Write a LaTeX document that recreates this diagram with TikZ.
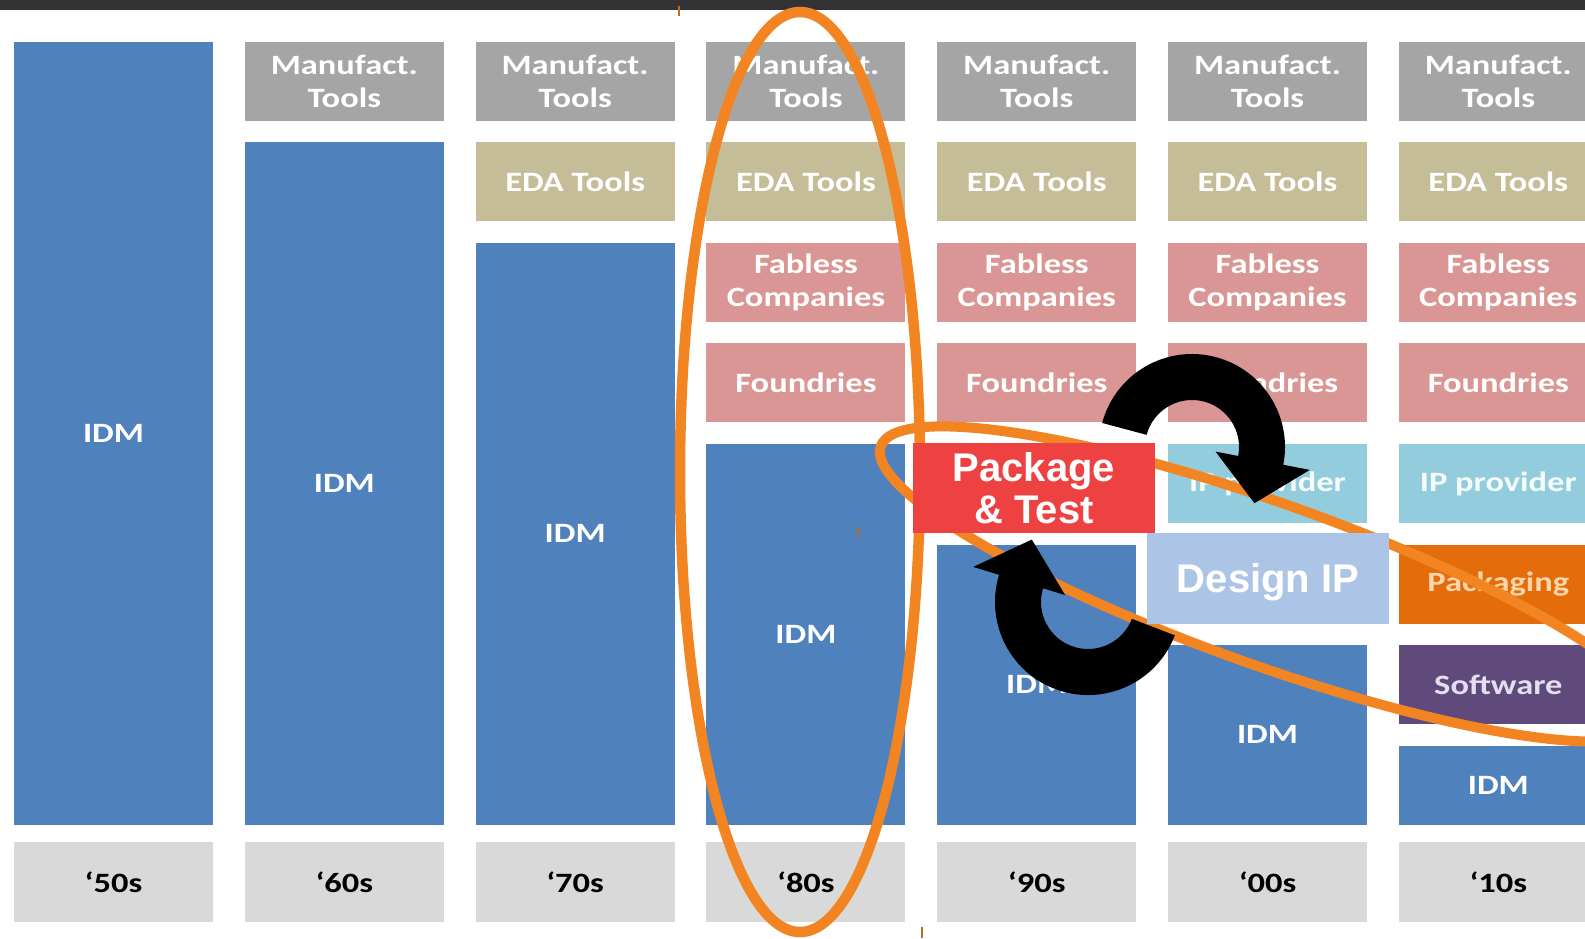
\documentclass[tikz,border=0pt]{standalone}
\usepackage{fontspec}
\newfontfamily\lblfont[FakeStretch=1.23]{Carlito}
\newfontfamily\callfont{Liberation Sans}
\usetikzlibrary{calc}

\definecolor{idmblue}{RGB}{79,129,189}
\definecolor{mfggray}{RGB}{165,165,165}
\definecolor{edatan}{RGB}{196,189,151}
\definecolor{fabpink}{RGB}{217,150,148}
\definecolor{ipaqua}{RGB}{147,205,221}
\definecolor{pkgorange}{RGB}{228,108,10}
\definecolor{swpurple}{RGB}{96,74,123}
\definecolor{decgray}{RGB}{217,217,217}
\definecolor{ringorange}{RGB}{242,133,34}
\definecolor{ptred}{RGB}{238,65,65}
\definecolor{dipblue}{RGB}{172,197,230}
\definecolor{topbar}{RGB}{51,51,51}

\tikzset{
  cell/.style={rectangle, anchor=north west, inner sep=0pt, outer sep=0pt,
    minimum width=199pt, minimum height=79pt, align=center, text=white,
    font=\lblfont\bfseries\fontsize{28}{33}\selectfont},
  idm/.style={cell, fill=idmblue},
  mfg/.style={cell, fill=mfggray},
  eda/.style={cell, fill=edatan},
  fab/.style={cell, fill=fabpink},
  ipp/.style={cell, fill=ipaqua, text=white!92!ipaqua},
  pkg/.style={cell, fill=pkgorange, text={rgb,255:red,252;green,213;blue,170}},
  sw/.style={cell, fill=swpurple, text={rgb,255:red,229;green,222;blue,238}},
  decade/.style={cell, fill=decgray, text=black, minimum height=80pt},
  callout/.style={rectangle, inner sep=0pt, outer sep=0pt, align=center,
    text=white, font=\callfont\bfseries\fontsize{40}{42}\selectfont},
  ring/.style={draw=ringorange, line width=10.5pt},
  tick/.style={draw=ringorange!80!black, line width=1.2pt},
}

% block at column #3 (1..7), row #4 (0..7)
\newcommand\tile[5]{\node[#1] (#2) at ({14+230.8*(#3-1)},{41.5+100.6*(#4)}) {#5};}

% curved thick arrow: centre, tail angle, head-base angle, tip angle
\newcommand\turnarrow[4]{%
  \fill[black] ($(#1)+(#2:93)$) arc[start angle=#2, end angle=#3, radius=93]
    -- ($(#1)+(#3:120)$) -- ($(#1)+(#4:84)$) -- ($(#1)+(#3:24)$)
    -- ($(#1)+(#3:47)$) arc[start angle=#3, end angle=#2, radius=47] -- cycle;}

\begin{document}
\begin{tikzpicture}[x=1pt, y=-1pt]
\path[use as bounding box] (0,0) rectangle (1585,938);
\clip (0,0) rectangle (1585,938);
\fill[white] (0,0) rectangle (1585,938);
\fill[topbar] (0,0) rectangle (1585,9.5);

% '50s
\tile{idm, minimum height=783.2pt}{c1}{1}{0}{IDM}
% '60s
\tile{mfg}{m2}{2}{0}{Manufact.\\Tools}
\tile{idm, minimum height=682.6pt}{c2}{2}{1}{IDM}
% '70s
\tile{mfg}{m3}{3}{0}{Manufact.\\Tools}
\tile{eda}{e3}{3}{1}{EDA Tools}
\tile{idm, minimum height=582pt}{c3}{3}{2}{IDM}
% '80s
\tile{mfg}{m4}{4}{0}{Manufact.\\Tools}
\tile{eda}{e4}{4}{1}{EDA Tools}
\tile{fab}{f4}{4}{2}{Fabless\\Companies}
\tile{fab}{d4}{4}{3}{Foundries}
\tile{idm, minimum height=380.8pt}{c4}{4}{4}{IDM}
% '90s
\tile{mfg}{m5}{5}{0}{Manufact.\\Tools}
\tile{eda}{e5}{5}{1}{EDA Tools}
\tile{fab}{f5}{5}{2}{Fabless\\Companies}
\tile{fab}{d5}{5}{3}{Foundries}
\tile{idm, minimum height=280.2pt}{c5}{5}{5}{IDM}
% '00s
\tile{mfg}{m6}{6}{0}{Manufact.\\Tools}
\tile{eda}{e6}{6}{1}{EDA Tools}
\tile{fab}{f6}{6}{2}{Fabless\\Companies}
\tile{fab}{d6}{6}{3}{Foundries}
\tile{ipp}{i6}{6}{4}{IP provider}
\tile{idm, minimum height=179.6pt}{c6}{6}{6}{IDM}
% '10s
\tile{mfg}{m7}{7}{0}{Manufact.\\Tools}
\tile{eda}{e7}{7}{1}{EDA Tools}
\tile{fab}{f7}{7}{2}{Fabless\\Companies}
\tile{fab}{d7}{7}{3}{Foundries}
\tile{ipp}{i7}{7}{4}{IP provider}
\tile{pkg}{p7}{7}{5}{Packaging}
\tile{sw}{s7}{7}{6}{Software}
\tile{idm}{c7}{7}{7}{IDM}

% decade labels
\node[decade] (y1) at (14,842) {‘50s};
\node[decade] (y2) at (244.8,842) {‘60s};
\node[decade] (y3) at (475.6,842) {‘70s};
\node[decade] (y4) at (706.4,842) {‘80s};
\node[decade] (y5) at (937.2,842) {‘90s};
\node[decade] (y6) at (1168,842) {‘00s};
\node[decade] (y7) at (1398.8,842) {‘10s};

% highlight rings
\coordinate (ringA) at (800,472);
\coordinate (ringB) at (1268,584);
\draw[ring] (ringA) ellipse [x radius=120, y radius=460];
\draw[ring, line width=10pt, rotate around={-19.6:(ringB)}] (ringB) ellipse [x radius=411, y radius=81];

% call-out boxes
\node[callout, fill=ptred, minimum width=242pt, minimum height=90pt] (pt) at (1034,488) {Package\\\& Test};
\node[callout, fill=dipblue, minimum width=242pt, minimum height=91pt,
      text height=28.6pt, text depth=0pt] (dip) at (1268,578.5) {Design IP};

% cycle arrows
\coordinate (loopA) at (1192,447);
\coordinate (loopB) at (1088,602);
\turnarrow{loopA}{-165}{11}{42}
\turnarrow{loopB}{21}{197}{228}

% small marks
\draw[tick] (679,6) -- (679,16);
\draw[tick] (858,527) -- (858,537);
\draw[tick] (922,927) -- (922,938);
\end{tikzpicture}
\end{document}
